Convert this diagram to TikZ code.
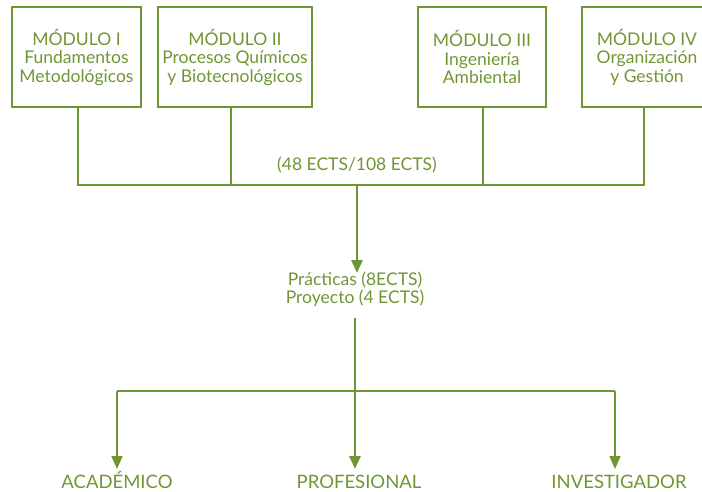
\documentclass[tikz,border=0pt]{standalone}
\usepackage{fontspec}
\setmainfont{Lato}
\usetikzlibrary{arrows.meta}
\definecolor{olive}{RGB}{112,150,52}
\begin{document}
\begin{tikzpicture}[x=1pt,y=-1pt,
  txt/.style={text=olive,font=\fontsize{17.5}{18.5}\selectfont,align=center,inner sep=0pt},
  big/.style={text=olive,font=\fontsize{18.5}{20}\selectfont,align=center,inner sep=0pt,anchor=base},
  modbox/.style={draw=olive,line width=2pt,minimum height=100pt,inner sep=0pt},
  thin/.style={draw=olive,line width=1.6pt},
  thick/.style={draw=olive,line width=2.8pt},
  arr/.style={-{Triangle[length=13pt,width=11pt]}}]
\useasboundingbox (0,0) rectangle (702,491);
\begin{scope}
\clip (0,0) rectangle (702,491);
\node[modbox,minimum width=129pt] (m1) at (76.5,57) {};
\node[modbox,minimum width=154pt] (m2) at (235,57) {};
\node[modbox,minimum width=128pt] (m3) at (482,57) {};
\node[modbox,minimum width=130pt] (m4) at (647,57) {};
\end{scope}
\node[txt] (t1) at (76.5,57) {MÓDULO I\\Fundamentos\\Metodológicos};
\node[txt] (t2) at (235,57) {MÓDULO II\\Procesos Químicos\\y Biotecnológicos};
\node[txt] (t3) at (482,57) {MÓDULO III\\Ingeniería\\Ambiental};
\node[txt] (t4) at (647,57) {MÓDULO IV\\Organización\\y Gestión};
\coordinate (h1) at (78,185);
\coordinate (h2) at (231,185);
\coordinate (h3) at (483,185);
\coordinate (h4) at (644,185);
\coordinate (hc) at (357,185);
\draw[thin] (m1.south -| h1) -- (h1) -- (h4) -- (m4.south -| h4);
\draw[thin] (m2.south -| h2) -- (h2);
\draw[thin] (m3.south -| h3) -- (h3);
\node[txt] (ects) at (357,165) {(48 ECTS/108 ECTS)};
\node[txt] (pr) at (355,289) {Prácticas (8ECTS)\\Proyecto (4 ECTS)};
\draw[thick,arr] (hc) -- (357,273) coordinate (pa);
\node[big] (aca) at (117,488) {ACADÉMICO};
\node[big] (pro) at (359,488) {PROFESIONAL};
\node[big] (inv) at (619,488) {INVESTIGADOR};
\coordinate (v0) at (355,318);
\coordinate (b1) at (117,391);
\coordinate (b3) at (615,391);
\draw[thin] (b1) -- (b3);
\draw[thick,arr] (v0) -- (355,469);
\draw[thin,arr] (b1) -- (117,469);
\draw[thin,arr] (b3) -- (615,469);
\end{tikzpicture}
\end{document}
